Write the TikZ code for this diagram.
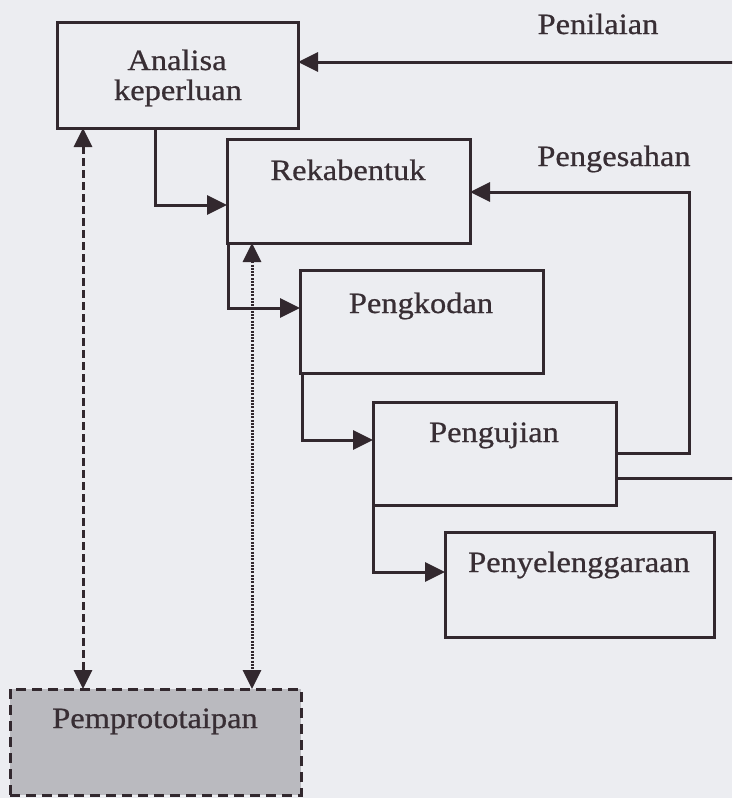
\documentclass[tikz,border=0pt]{standalone}
\usepackage{fontspec}
\setmainfont{Liberation Serif}[FakeStretch=1.1,FakeBold=0.7]
\usetikzlibrary{arrows.meta,calc}
\definecolor{ink}{RGB}{50,40,46}
\definecolor{txt}{RGB}{56,46,52}
\definecolor{paper}{RGB}{236,237,241}
\definecolor{shade}{RGB}{186,186,191}
\tikzset{
  box/.style={draw=ink, line width=3pt, rectangle, inner sep=0pt, outer sep=0pt, anchor=north west},
  protobox/.style={box, fill=shade, line width=3pt, dash pattern=on 10pt off 6pt},
  lbl/.style={text=txt, inner sep=0pt, anchor=base, font=\fontsize{29.5}{31}\selectfont},
  conn/.style={draw=ink, line width=3pt, -{Triangle[length=20pt,width=19pt]}},
  plain/.style={draw=ink, line width=3pt},
  dashconn/.style={draw=ink, line width=3pt, dash pattern=on 8pt off 4pt,
     {Triangle[length=19pt,width=18pt]}-{Triangle[length=19pt,width=18pt]}},
  dotconn/.style={draw=ink, line width=3pt, dash pattern=on 2pt off 1.3pt,
     {Triangle[length=19pt,width=18pt]}-{Triangle[length=19pt,width=18pt]}}
}
\begin{document}
\begin{tikzpicture}[x=1pt,y=-1pt]
\useasboundingbox (0,0) rectangle (732,798);
\fill[paper] (0,0) rectangle (732,798);
\clip (0,0) rectangle (732,798);

% phase boxes
\node[box, minimum width=241pt, minimum height=106pt] (ana) at (57,22) {};
\node[box, minimum width=243pt, minimum height=104pt] (rek) at (227,139) {};
\node[box, minimum width=243pt, minimum height=103pt] (kod) at (300,270) {};
\node[box, minimum width=243pt, minimum height=103pt] (uji) at (373,402) {};
\node[box, minimum width=269pt, minimum height=105pt] (sel) at (445,532) {};
\node[protobox, minimum width=291pt, minimum height=106pt] (pro) at (10,689) {};

% box texts
\node[lbl] (tana1) at (177,70) {Analisa};
\node[lbl] (tana2) at (178,100) {keperluan};
\node[lbl] (trek) at (348,180) {Rekabentuk};
\node[lbl] (tkod) at (421,313) {Pengkodan};
\node[lbl] (tuji) at (494,442) {Pengujian};
\node[lbl] (tsel) at (579,572) {Penyelenggaraan};
\node[lbl] (tpro) at (155,728) {Pemprototaipan};

% loop labels
\node[lbl] (tnil) at (598,34) {Penilaian};
\node[lbl] (tsah) at (614,166) {Pengesahan};

% forward steps
\draw[conn] ([xshift=98pt]ana.south west) |- ([yshift=-14pt]rek.west);
\draw[conn] ([xshift=1pt]rek.south west) |- ([yshift=13.5pt]kod.west);
\draw[conn] ([xshift=2pt]kod.south west) |- ([yshift=13.5pt]uji.west);
\draw[conn] (uji.south west) |- ([yshift=12.5pt]sel.west);

% Pengesahan loop back to Rekabentuk
\coordinate (sahR) at (689,192);
\draw[conn] ([yshift=-51pt]uji.north east) -| (sahR) -- ([yshift=-1pt]rek.east);

% Penilaian loop back to Analisa keperluan
\coordinate (nilR) at (760,62);
\draw[plain] ([yshift=-76pt]uji.north east) -| (nilR);
\draw[conn] (nilR) -- ([yshift=13pt]ana.east);

% prototyping links
\draw[dashconn] ([xshift=26pt]ana.south west) -- ([xshift=73pt]pro.north west);
\draw[dotconn] ([xshift=25pt]rek.south west) -- ([xshift=242pt]pro.north west);
\end{tikzpicture}
\end{document}
